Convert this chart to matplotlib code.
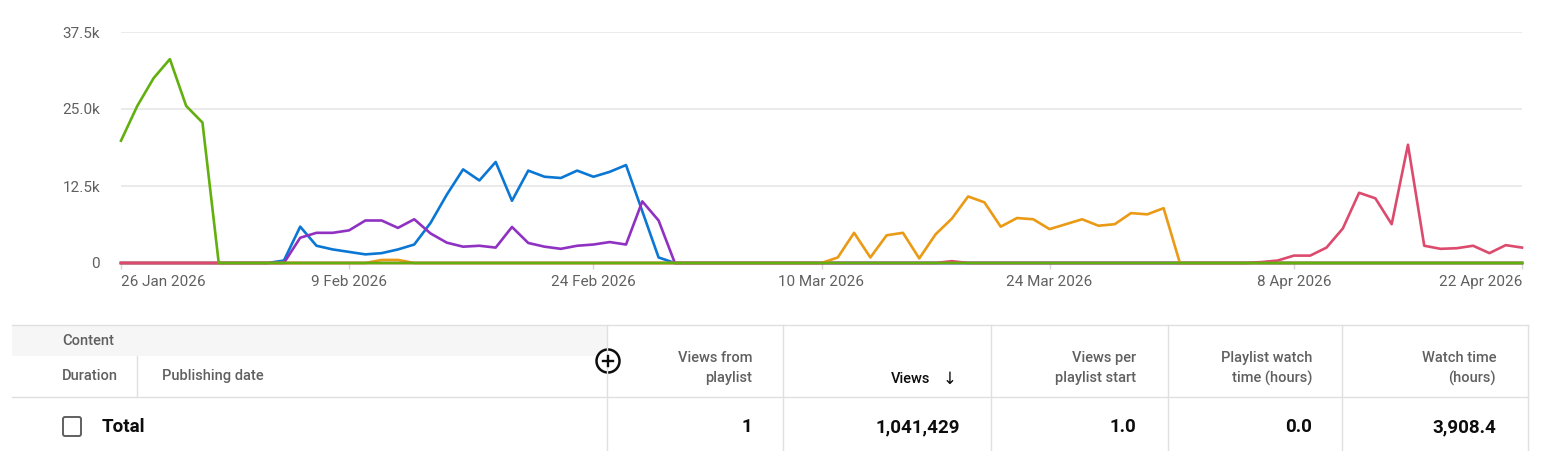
import matplotlib
matplotlib.use("Agg")
import matplotlib.pyplot as plt
import matplotlib.patches as mpatches
import pandas as pd
import numpy as np

plt.rcParams['font.family'] = ['Roboto', 'DejaVu Sans']

# ---------------- data (views, thousands) ----------------
dates = pd.date_range("2026-01-26", "2026-04-22", freq="D")
n = len(dates)

green_vals = {0: 19.85, 1: 25.5, 2: 30.0, 3: 33.1, 4: 25.5, 5: 22.8}
blue_vals = {10: 0.4, 11: 5.9, 12: 2.8, 13: 2.2, 14: 1.8, 15: 1.4, 16: 1.6, 17: 2.2,
             18: 3.0, 19: 6.5, 20: 11.1, 21: 15.2, 22: 13.4, 23: 16.4, 24: 10.1,
             25: 15.0, 26: 14.0, 27: 13.8, 28: 15.0, 29: 14.0, 30: 14.8, 31: 15.9,
             32: 8.4, 33: 0.9}
purple_vals = {11: 4.1, 12: 4.9, 13: 4.9, 14: 5.3, 15: 6.9, 16: 6.9, 17: 5.7, 18: 7.1,
               19: 4.8, 20: 3.3, 21: 2.65, 22: 2.8, 23: 2.5, 24: 5.85, 25: 3.25,
               26: 2.65, 27: 2.3, 28: 2.8, 29: 3.0, 30: 3.4, 31: 3.0, 32: 10.0, 33: 6.9}
orange_vals = {16: 0.5, 17: 0.5, 44: 0.9, 45: 4.9, 46: 0.9, 47: 4.5, 48: 4.9, 49: 0.75,
               50: 4.65, 51: 7.2, 52: 10.8, 53: 9.85, 54: 5.9, 55: 7.3, 56: 7.1, 57: 5.5,
               58: 6.3, 59: 7.1, 60: 6.05, 61: 6.3, 62: 8.1, 63: 7.9, 64: 8.9}
pink_vals = {51: 0.3, 70: 0.15, 71: 0.4, 72: 1.2, 73: 1.2, 74: 2.5, 75: 5.6, 76: 11.4,
             77: 10.5, 78: 6.3, 79: 19.2, 80: 2.8, 81: 2.3, 82: 2.4, 83: 2.8, 84: 1.6,
             85: 2.9, 86: 2.5}

def series(d):
    return [d.get(i, 0.0) for i in range(n)]

green = series(green_vals)
blue = series(blue_vals)
purple = series(purple_vals)
orange = series(orange_vals)
pink = series(pink_vals)

y_ticks = [0, 12.5, 25.0, 37.5]
y_labels = ["0", "12.5k", "25.0k", "37.5k"]
x_tick_dates = pd.to_datetime(["2026-01-26", "2026-02-09", "2026-02-24", "2026-03-10",
                               "2026-03-24", "2026-04-08", "2026-04-22"])
x_labels = ["26 Jan 2026", "9 Feb 2026", "24 Feb 2026", "10 Mar 2026",
            "24 Mar 2026", "8 Apr 2026", "22 Apr 2026"]

headers = [["Views from", "playlist"], ["Views"], ["Views per", "playlist start"],
           ["Playlist watch", "time (hours)"], ["Watch time", "(hours)"]]
totals = ["1", "1,041,429", "1.0", "0.0", "3,908.4"]

# ---------------- figure ----------------
W, H = 1542, 451
fig = plt.figure(figsize=(W / 100, H / 100), dpi=100)
fig.patch.set_facecolor("white")

ax = fig.add_axes([121 / W, (H - 263) / H, 1401 / W, 231 / H])
ax.set_facecolor("none")
for s in ax.spines.values():
    s.set_visible(False)

ax.set_ylim(0, 37.5)
ax.set_xlim(dates[0], dates[-1])
ax.set_yticks(y_ticks)
ax.set_yticklabels(y_labels)
ax.yaxis.grid(True, color="#e8e8e8", lw=1.3)
ax.set_axisbelow(True)
ax.tick_params(axis="y", length=0, pad=15, labelsize=11, labelcolor="#606060")

ax.set_xticks(x_tick_dates)
ax.set_xticklabels(x_labels)
ax.tick_params(axis="x", length=4.3, width=1, color="#d6d6d6", pad=4.5,
               labelsize=11, labelcolor="#606060")
lbls = ax.get_xticklabels()
lbls[0].set_horizontalalignment("left")
lbls[-1].set_horizontalalignment("right")

lw = 1.9
colors = {"blue": "#0b77d4", "purple": "#8f32c2", "orange": "#ea9a14",
          "pink": "#dc4b6d", "green": "#62b00e"}
ax.plot(dates, blue, color=colors["blue"], lw=lw, clip_on=False, zorder=3)
ax.plot(dates, purple, color=colors["purple"], lw=lw, clip_on=False, zorder=3)
ax.plot(dates, orange, color=colors["orange"], lw=lw, clip_on=False, zorder=3)
ax.plot(dates, pink, color=colors["pink"], lw=lw, clip_on=False, zorder=4)
ax.plot(dates, green, color=colors["green"], lw=lw, clip_on=False, zorder=5)

# ---------------- table overlay ----------------
t = fig.add_axes([0, 0, 1, 1])
t.set_xlim(0, W)
t.set_ylim(H, 0)
t.axis("off")
t.patch.set_alpha(0)

lc = "#e0e0e0"
t.add_patch(mpatches.Rectangle((12, 325), 595, 31, facecolor="#f6f6f6", edgecolor="none"))
t.plot([12, 1528], [325, 325], color=lc, lw=1)
t.plot([12, 1528], [396.5, 396.5], color=lc, lw=1)
for xv in [607, 783, 991, 1168, 1342, 1528]:
    t.plot([xv, xv], [325, 451], color=lc, lw=1)
t.plot([137, 137], [356, 396.5], color=lc, lw=1)

hc = "#606060"
hw = "medium"
t.text(62, 341, "Content", fontsize=10.5, color=hc, ha="left", va="center", fontweight=hw)
t.text(62, 376, "Duration", fontsize=10.5, color=hc, ha="left", va="center", fontweight=hw)
t.text(162, 376, "Publishing date", fontsize=10.5, color=hc, ha="left", va="center",
       fontweight=hw)

col_right = [752, 930, 1136, 1312, 1496]
val_right = [752, 960, 1136, 1312, 1496]
for xr, hd in zip(col_right, headers):
    if len(hd) == 2:
        t.text(xr, 358, hd[0], fontsize=10.5, color=hc, ha="right", va="center",
               fontweight=hw)
        t.text(xr, 378, hd[1], fontsize=10.5, color=hc, ha="right", va="center",
               fontweight=hw)
    else:
        t.text(xr, 379, hd[0], fontsize=10.5, color="#0d0d0d", ha="right", va="center",
               fontweight=hw)
t.text(950, 379, "↓", fontsize=12, color="#0d0d0d", ha="center", va="center",
       family=["DejaVu Sans"])

for xr, v in zip(val_right, totals):
    t.text(xr, 427, v, fontsize=13.5, fontweight="bold", color="#0d0d0d",
           ha="right", va="center")
t.text(102, 427, "Total", fontsize=13.5, fontweight="bold", color="#0d0d0d",
       ha="left", va="center")

t.add_patch(mpatches.FancyBboxPatch((63, 417), 18, 19,
                                    boxstyle="round,pad=0,rounding_size=2",
                                    facecolor="white", edgecolor="#606060", lw=1.4))

t.add_patch(mpatches.Circle((608, 361), 11.5, facecolor="white", edgecolor="#0d0d0d", lw=1.8))
t.plot([603, 613], [361, 361], color="#0d0d0d", lw=1.7)
t.plot([608, 608], [356, 366], color="#0d0d0d", lw=1.7)

fig.savefig("out.png", dpi=100, facecolor="white")
